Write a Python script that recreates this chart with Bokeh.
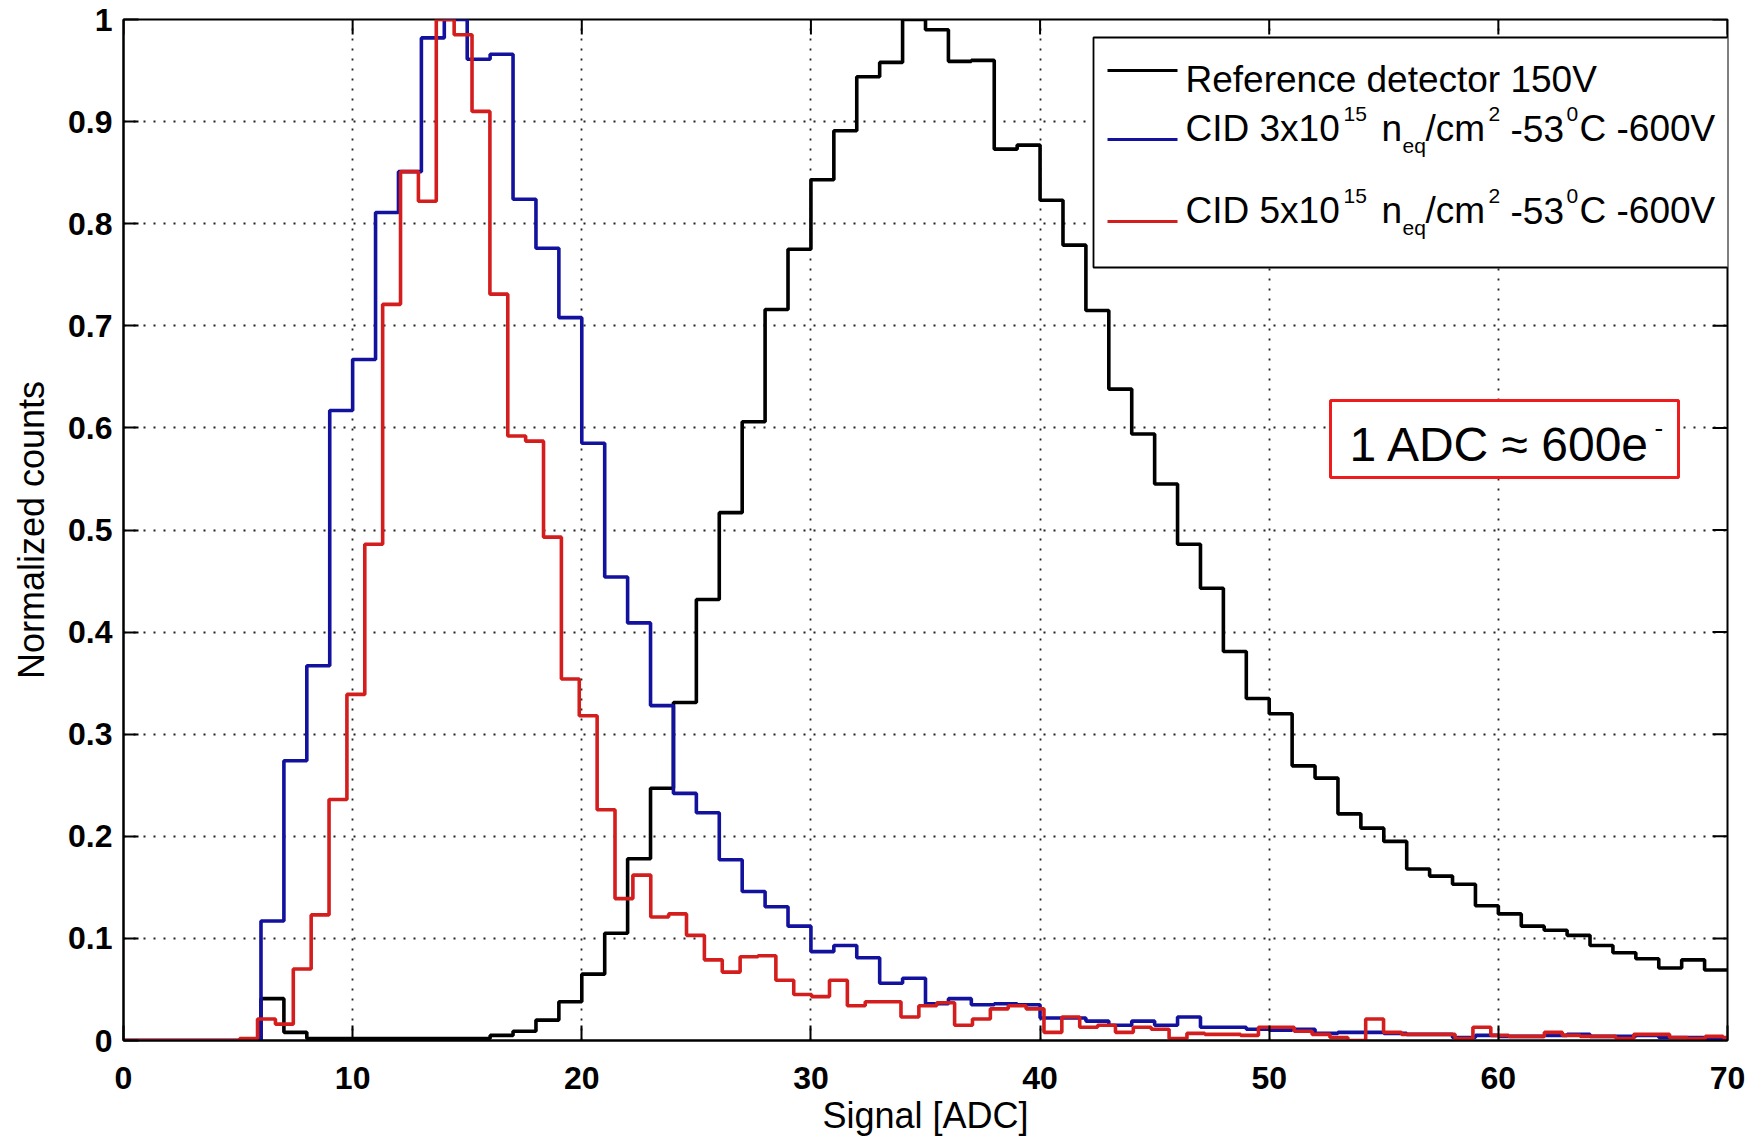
from bokeh.plotting import figure
from bokeh.models import Range1d, Label, BoxAnnotation, FixedTicker
from bokeh.embed import file_html
from bokeh.resources import INLINE

# ---------------- data ----------------
x_ticks = [0, 10, 20, 30, 40, 50, 60, 70]
y_ticks = [0, 0.1, 0.2, 0.3, 0.4, 0.5, 0.6, 0.7, 0.8, 0.9, 1]
y_tick_labels = ["0", "0.1", "0.2", "0.3", "0.4", "0.5", "0.6", "0.7", "0.8", "0.9", "1"]

# Reference detector 150V : 1-ADC bins starting at 0
reference_150V = [
    0, 0, 0, 0, 0, 0, 0.041, 0.008, 0.002, 0.002,
    0.002, 0.002, 0.002, 0.002, 0.002, 0.002, 0.005, 0.009, 0.020, 0.038,
    0.065, 0.105, 0.178, 0.247, 0.331, 0.432, 0.517, 0.606, 0.716, 0.775,
    0.843, 0.891, 0.944, 0.958, 1.000, 0.990, 0.959, 0.960, 0.873, 0.877,
    0.823, 0.779, 0.715, 0.638, 0.594, 0.545, 0.486, 0.443, 0.381, 0.335,
    0.320, 0.269, 0.257, 0.222, 0.208, 0.195, 0.168, 0.161, 0.153, 0.132,
    0.124, 0.112, 0.108, 0.103, 0.093, 0.086, 0.080, 0.071, 0.079, 0.069,
]

# CID 3e15 : 1-ADC bins starting at 0
cid_3e15 = [
    0, 0, 0, 0, 0, 0, 0.117, 0.274, 0.367, 0.617,
    0.667, 0.811, 0.851, 0.982, 1.000, 0.961, 0.966, 0.824, 0.776, 0.708,
    0.585, 0.454, 0.409, 0.328, 0.242, 0.223, 0.177, 0.146, 0.131, 0.112,
    0.087, 0.093, 0.081, 0.056, 0.061, 0.036, 0.041, 0.035, 0.036, 0.035,
    0.022, 0.022, 0.019, 0.015, 0.019, 0.015, 0.023, 0.013, 0.013, 0.011,
    0.010, 0.011, 0.007, 0.008, 0.008, 0.007, 0.006, 0.006, 0.003, 0.005,
    0.004, 0.004, 0.005, 0.006, 0.004, 0.004, 0.005, 0.003, 0.003, 0.002,
]

# CID 5e15 : bins of width 0.78 ADC centred on n*0.78
CID5_BIN_WIDTH = 0.78
cid_5e15 = [
    0, 0, 0, 0, 0, 0, 0, 0.002, 0.021, 0.016,
    0.070, 0.123, 0.236, 0.339, 0.486, 0.721, 0.851, 0.822, 1.000, 0.985,
    0.910, 0.731, 0.592, 0.587, 0.493, 0.354, 0.318, 0.226, 0.139, 0.162,
    0.121, 0.124, 0.103, 0.079, 0.067, 0.082, 0.083, 0.059, 0.045, 0.043,
    0.059, 0.034, 0.038, 0.038, 0.023, 0.034, 0.037, 0.015, 0.021, 0.031,
    0.034, 0.031, 0.008, 0.023, 0.013, 0.015, 0.008, 0.013, 0.011, 0.002,
    0.007, 0.006, 0.006, 0.005, 0.013, 0.013, 0.009, 0.006, 0.003, 0.000,
    0.021, 0.008, 0.006, 0.006, 0.006, 0.002, 0.013, 0.005, 0.004, 0.004,
    0.008, 0.005, 0.004, 0.004, 0.002, 0.006, 0.006, 0.003, 0.002, 0.004,
    0.003,
]

ref_edges = list(range(len(reference_150V) + 1))
cid3_edges = list(range(len(cid_3e15) + 1))
cid5_edges = [CID5_BIN_WIDTH * (n - 0.5) for n in range(len(cid_5e15) + 1)]

# ---------------- figure ----------------
# frame position on the page, in page pixels
FRAME_L, FRAME_R, FRAME_T, FRAME_B = 123, 1727, 19, 1040
PAGE_OFF = 0          # observed offset of the figure on the page
X_MAX, Y_MAX = 70, 1.0

p = figure(frame_width=FRAME_R - FRAME_L, frame_height=FRAME_B - FRAME_T,
           x_range=Range1d(0, X_MAX), y_range=Range1d(0, Y_MAX),
           output_backend="svg", toolbar_location=None,
           min_border_left=FRAME_L - PAGE_OFF, min_border_right=20,
           min_border_top=FRAME_T - PAGE_OFF, min_border_bottom=98)
p.background_fill_color = "white"
p.border_fill_color = "white"
p.outline_line_color = "black"
p.outline_line_width = 2

def dx(X):
    return (X - FRAME_L) / (FRAME_R - FRAME_L) * X_MAX

def dy(Y):
    return (FRAME_B - Y) / (FRAME_B - FRAME_T) * Y_MAX

xt = FixedTicker(ticks=x_ticks)
yt = FixedTicker(ticks=y_ticks)

TICK_LEN = 15
for ax in (p.xaxis[0], p.yaxis[0]):
    ax.major_tick_in = TICK_LEN
    ax.major_tick_out = 0
    ax.minor_tick_line_color = None
    ax.major_tick_line_width = 2
    ax.axis_line_width = 2
    ax.major_label_text_font = "Liberation Sans"
    ax.major_label_text_font_style = "bold"
    ax.major_label_text_font_size = "32px"
    ax.major_label_text_color = "black"
    ax.axis_label_text_font = "Liberation Sans"
    ax.axis_label_text_font_style = "normal"
    ax.axis_label_text_font_size = "36px"
    ax.axis_label_text_color = "black"

p.xaxis[0].ticker = xt
p.yaxis[0].ticker = yt
p.yaxis[0].major_label_overrides = {t: s for t, s in zip(y_ticks, y_tick_labels)}
p.xaxis[0].axis_label = "Signal [ADC]"
p.yaxis[0].axis_label = "Normalized counts"
p.xaxis[0].major_label_standoff = 26
p.xaxis[0].axis_label_standoff = 3
p.yaxis[0].major_label_standoff = 11
p.yaxis[0].axis_label_standoff = 13

p.xgrid.ticker = xt
p.ygrid.ticker = yt
for g in (p.xgrid, p.ygrid):
    g.grid_line_color = "#222222"
    g.grid_line_dash = "2 8"
    g.grid_line_width = 1.8

# inward ticks on the top and right edges of the box
tick_dy = TICK_LEN / (FRAME_B - FRAME_T) * Y_MAX
tick_dx = TICK_LEN / (FRAME_R - FRAME_L) * X_MAX
p.segment(x0=x_ticks, y0=[Y_MAX] * len(x_ticks), x1=x_ticks,
          y1=[Y_MAX - tick_dy] * len(x_ticks), line_color="black", line_width=2)
p.segment(x0=[X_MAX] * len(y_ticks), y0=y_ticks, x1=[X_MAX - tick_dx] * len(y_ticks),
          y1=y_ticks, line_color="black", line_width=2)

# ---------------- histograms ----------------
BLACK, BLUE, RED = "#000000", "#12129e", "#d41e1e"
LW = 3.6
p.step(x=ref_edges, y=reference_150V + [reference_150V[-1]], mode="after",
       line_color=BLACK, line_width=LW)
p.step(x=cid3_edges, y=cid_3e15 + [cid_3e15[-1]], mode="after",
       line_color=BLUE, line_width=LW)
p.step(x=cid5_edges, y=cid_5e15 + [cid_5e15[-1]], mode="after",
       line_color=RED, line_width=LW)

# ---------------- legend (drawn by hand for super/subscripts) ----------------
BASELINE_SHIFT = 0.35   # measured: rendered glyph baseline sits ~0.35 em below y

def add_text(X, Y, txt, size, color="black"):
    p.add_layout(Label(x=dx(X), y=dy(Y - BASELINE_SHIFT * size), text=txt,
                       text_font="Liberation Sans", text_font_size=f"{size}px",
                       text_color=color, text_align="left", text_baseline="alphabetic"))

p.add_layout(BoxAnnotation(left=dx(1093), right=dx(1738), top=dy(37), bottom=dy(267),
                           fill_color="white", fill_alpha=1.0,
                           line_color="black", line_alpha=1.0, line_width=1.8))
for yy, col in ((70, BLACK), (139, BLUE), (221, RED)):
    p.add_layout(BoxAnnotation(left=dx(1107), right=dx(1177), top=dy(yy - 1.6),
                               bottom=dy(yy + 1.6), fill_color=col, fill_alpha=1.0,
                               line_color=None))

MAIN, SMALL = 37, 21
add_text(1185, 92, "Reference detector 150V", MAIN)
for base, fluence in ((141, "3x10"), (223, "5x10")):
    sup, sub = base - 20, base + 11
    add_text(1185, base, "CID " + fluence, MAIN)
    add_text(1343, sup, "15", SMALL)
    add_text(1381, base, "n", MAIN)
    add_text(1402, sub, "eq", SMALL)
    add_text(1425, base, "/cm", MAIN)
    add_text(1488, sup, "2", SMALL)
    add_text(1510, base, "-53", MAIN)
    add_text(1566, sup, "0", SMALL)
    add_text(1579, base, "C -600V", MAIN)

# ---------------- annotation box ----------------
p.add_layout(BoxAnnotation(left=dx(1330), right=dx(1678), top=dy(400), bottom=dy(477),
                           fill_color="white", fill_alpha=1.0,
                           line_color="#ee1c1c", line_alpha=1.0, line_width=3))
add_text(1349, 461, "1 ADC \u2248 600e", 48)
add_text(1654, 437, "-", 26)

open("out.html", "w").write(file_html(p, INLINE))
